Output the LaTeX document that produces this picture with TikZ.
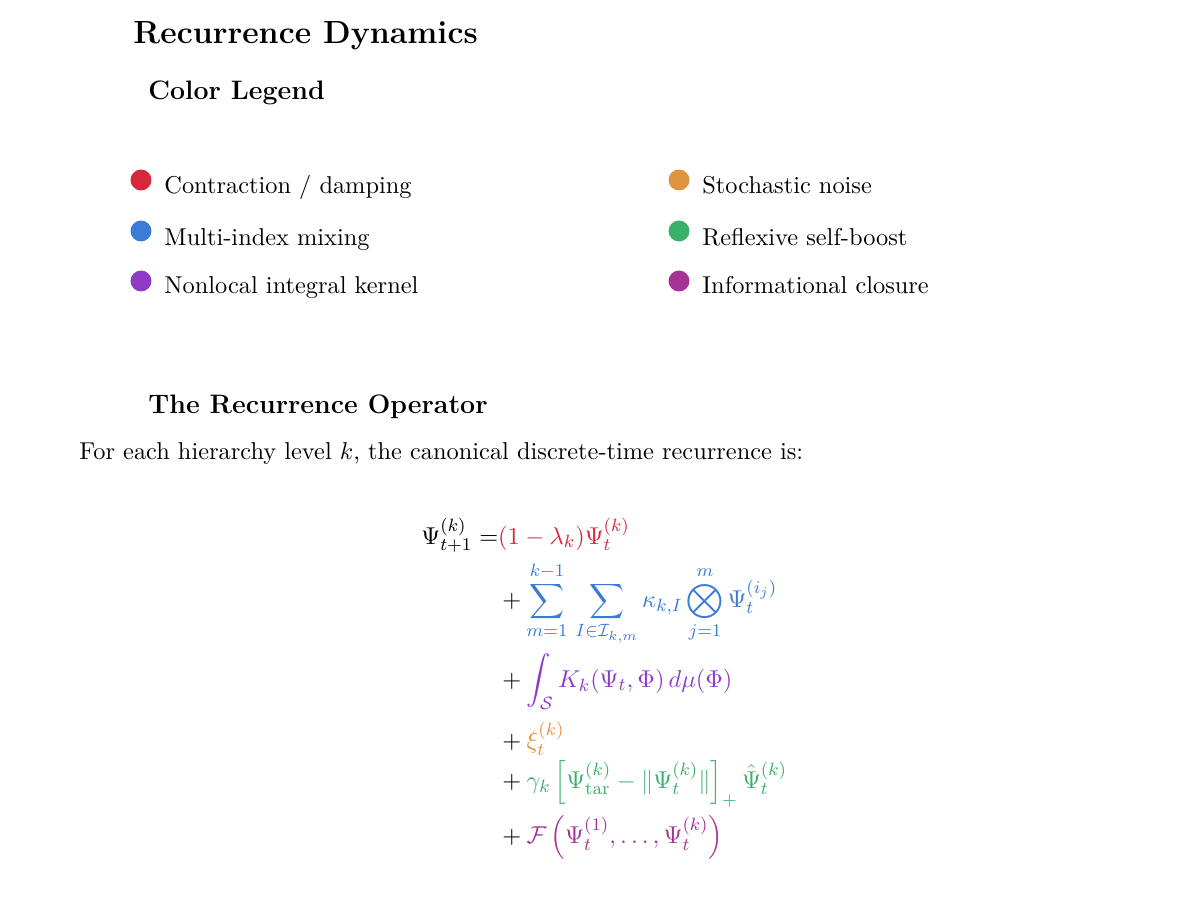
\documentclass[tikz,border=0pt]{standalone}
\usepackage{amsmath}
\usepackage{xcolor}
\usepackage{tikz}
\usetikzlibrary{positioning}
\definecolor{DampRed}{HTML}{D7283B}
\definecolor{MixBlue}{HTML}{3A7BD8}
\definecolor{KernPurple}{HTML}{8E3BC8}
\definecolor{NoiseOrange}{HTML}{DE9440}
\definecolor{BoostGreen}{HTML}{3BB06A}
\definecolor{ClosMagenta}{HTML}{A63296}
\tikzset{
    titletext/.style={anchor=base west, inner sep=0pt, font=\fontsize{14.4}{18}\selectfont\bfseries},
    headtext/.style={anchor=base west, inner sep=0pt, font=\fontsize{12}{14.5}\selectfont\bfseries},
    bodytext/.style={anchor=base west, inner sep=0pt, font=\fontsize{10.95}{13.6}\selectfont},
    legenddot/.style={circle, inner sep=0pt, minimum size=9.4pt},
}

\begin{document}
\begin{tikzpicture}[x=0.4494pt, y=-0.4494pt]
    \useasboundingbox (0,0) rectangle (1200,900);
    \node[titletext] (title) at (133,44) {Recurrence Dynamics};
    \node[headtext] (legendhead) at (148,100) {Color Legend};
    % legend, left column
    \node[legenddot, fill=DampRed] (dotdamp) at (141,180) {};
    \node[bodytext] (txtdamp) at (164,193) {Contraction / damping};
    \node[legenddot, fill=MixBlue] (dotmix) at (141,231) {};
    \node[bodytext] (txtmix) at (164,245) {Multi-index mixing};
    \node[legenddot, fill=KernPurple] (dotkern) at (141,281) {};
    \node[bodytext] (txtkern) at (164,294) {Nonlocal integral kernel};
    % legend, right column
    \node[legenddot, fill=NoiseOrange] (dotnoise) at (679,180) {};
    \node[bodytext] (txtnoise) at (702,193) {Stochastic noise};
    \node[legenddot, fill=BoostGreen] (dotboost) at (679,231) {};
    \node[bodytext] (txtboost) at (702,245) {Reflexive self-boost};
    \node[legenddot, fill=ClosMagenta] (dotclos) at (679,281) {};
    \node[bodytext] (txtclos) at (702,294) {Informational closure};
    % operator
    \node[headtext] (ophead) at (148,413) {The Recurrence Operator};
    \node[bodytext] (intro) at (79,459) {For each hierarchy level $k$, the canonical discrete-time recurrence is:};
    \node[bodytext] (recur) at (421,544) {$\displaystyle\begin{aligned}[t]
        \Psi^{(k)}_{t+1} &=\mskip-\thickmuskip\textcolor{DampRed}{(1-\lambda_k)\Psi^{(k)}_t}\\
        &\quad{}+\textcolor{MixBlue}{\sum_{m=1}^{k-1}\,\sum_{I\in\mathcal{I}_{k,m}}\kappa_{k,I}\bigotimes_{j=1}^{m}\Psi^{(i_j)}_t}\\
        &\quad{}+\textcolor{KernPurple}{\int_{\mathcal{S}} K_k(\Psi_t,\Phi)\,d\mu(\Phi)}\\[2pt]
        &\quad{}+\textcolor{NoiseOrange}{\xi^{(k)}_t}\\[-3pt]
        &\quad{}+\textcolor{BoostGreen}{\gamma_k\left[\Psi^{(k)}_{\mathrm{tar}}-\|\Psi^{(k)}_t\|\right]_+\hat{\Psi}^{(k)}_t}\\
        &\quad{}+\textcolor{ClosMagenta}{\mathcal{F}\left(\Psi^{(1)}_t,\dots,\Psi^{(k)}_t\right)}
    \end{aligned}$};
\end{tikzpicture}
\end{document}
